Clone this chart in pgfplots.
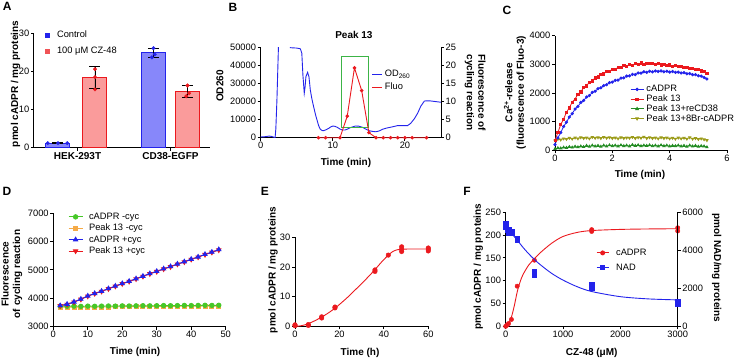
\documentclass[border=0pt]{standalone}
\usepackage{fontspec}
\setmainfont{Liberation Sans}
\usepackage{pgfplots}
\pgfplotsset{compat=1.18}

\definecolor{gblue}{RGB}{35,35,235}
\definecolor{gred}{RGB}{235,25,30}
\definecolor{barblue}{RGB}{135,135,250}
\definecolor{barred}{RGB}{250,155,155}
\definecolor{boxgreen}{RGB}{60,180,70}
\definecolor{cgreen}{RGB}{35,140,35}
\definecolor{colive}{RGB}{155,155,25}
\definecolor{dgreen}{RGB}{70,200,40}
\definecolor{dorange}{RGB}{245,170,70}

\pgfplotsset{
  gp/.style={
    scale only axis, anchor=south west,
    axis x line*=bottom, axis y line*=left,
    axis line style={line width=1pt, black},
    tick align=outside, major tick length=3pt,
    tick style={line width=0.9pt, black},
    /pgf/number format/assume math mode=true,
    /pgf/number format/1000 sep={},
    scaled ticks=false,
    tick label style={font=\fontsize{9.3}{10}\selectfont, inner sep=1.5pt},
    label style={font=\fontsize{10}{11.5}\selectfont\bfseries, align=center, anchor=center},
    legend style={draw=none, fill=none, font=\fontsize{9.3}{10}\selectfont,
      inner sep=0pt, anchor=north west,
      nodes={inner sep=0pt, text height=7pt, text depth=2pt}},
    legend cell align=left,
    clip=false,
  },
}
\tikzset{pan/.style={font=\fontsize{12}{14}\selectfont\bfseries}}

\begin{document}
\begin{tikzpicture}[x=1pt,y=1pt]
\useasboundingbox (0,0) rectangle (737,360);

% ---------------- A ----------------
\begin{axis}[gp, at={(34pt,212.3pt)}, width=176pt, height=114.4pt,
  xmin=0.532, xmax=2.425, ymin=0, ymax=30, ytick={0,10,20,30},
  xtick={1,2}, xticklabels={HEK-293T,CD38-EGFP},
  xticklabel style={font=\fontsize{10}{11}\selectfont\bfseries},
  ylabel={pmol cADPR / mg proteins},
  ylabel style={at={(axis description cs:-0.105,0.557)}},
  legend style={at={(axis description cs:0.064,1.024)}, row sep=6.7pt,
    /tikz/every odd column/.append style={column sep=8pt}},
  legend image code/.code={\draw[#1] plot coordinates {(1.8pt,0pt)};},
]
\addlegendimage{only marks, mark=square*, mark size=1.8pt, gblue}
\addlegendentry{Control}
\addlegendimage{only marks, mark=square*, mark size=1.8pt, gred!75}
\addlegendentry{100 μM CZ-48}
\addplot[ybar, bar width=24pt, bar shift=0pt, fill=barblue, draw=gblue, line width=1pt, forget plot,
  error bars/.cd, y dir=both, y explicit,
  error bar style={black, line width=0.9pt},
  error mark options={black, rotate=90, mark size=5.5pt, line width=0.9pt}]
  coordinates {(0.790,1.2) +- (0,0.05) (1.817,24.9) +- (0,1.25)};
\addplot[ybar, bar width=24pt, bar shift=0pt, fill=barred, draw=gred, line width=1pt, forget plot,
  error bars/.cd, y dir=both, y explicit,
  error bar style={black, line width=0.9pt},
  error mark options={black, rotate=90, mark size=5.5pt, line width=0.9pt}]
  coordinates {(1.188,18.4) +- (0,2.8) (2.183,14.7) +- (0,1.6)};
\addplot[only marks, mark=*, mark size=1.8pt, gblue, forget plot]
  coordinates {(0.68,1.2) (0.79,1.2) (0.89,1.2) (1.80,23.7) (1.83,24.5) (1.817,26.1)};
\addplot[only marks, mark=*, mark size=1.8pt, gred, forget plot]
  coordinates {(1.188,20.6) (1.188,18.5) (1.188,15.3) (2.183,16.3) (2.17,13.5) (2.20,14.3)};
\end{axis}

% ---------------- B ----------------
\begin{axis}[gp, clip=true, at={(260.7pt,222.3pt)}, width=180.3pt, height=90pt,
  xmin=0, xmax=25, ymin=0, ymax=50000, xtick={0,10,20}, ytick={0,10000,...,50000},
  xlabel={Time (min)}, ylabel={OD260},
  xlabel style={at={(axis description cs:0.473,-0.281)}},
  ylabel style={at={(axis description cs:-0.226,0.574)}},
]
\addplot[gblue, line width=0.9pt, forget plot] coordinates {
 (0,400) (0.5,500) (1.0,800) (1.2,900) (1.5,700) (1.8,300) (2.0,100) (2.1,5000)
 (2.25,21000) (2.45,49000) (2.6,70000) (3.5,80000) (4.0,60000) (4.1,50000)
 (5.0,49800) (5.5,49400) (5.7,47000) (5.85,35000) (6.04,24700) (6.15,28000)
 (6.27,33900) (6.5,36300) (6.69,33900) (6.88,26500) (7.1,21500) (7.34,17200)
 (7.6,12800) (7.81,9800) (8.05,6500) (8.27,4700) (8.5,4000) (8.73,3900)
 (9.1,4500) (9.43,5200) (9.75,6100) (10.04,6500) (10.3,6300) (10.6,5800)
 (11.0,4800) (11.3,4300) (11.7,4300) (12.0,4700) (12.5,5700) (13.15,6500)
 (13.6,6400) (14.1,5800) (14.6,4700) (15.0,3900) (15.5,3500) (15.94,3300)
 (16.4,3700) (16.9,4700) (17.5,5400) (18.0,5800) (18.97,6700) (20.0,6700)
 (20.36,6700) (20.8,8000) (21.3,10500) (21.75,13500) (22.2,17500) (22.7,20400)
 (23.4,20500) (24.2,20100) (25,19700)};
\end{axis}
\begin{axis}[gp, at={(260.7pt,222.3pt)}, width=180.3pt, height=90pt,
  xmin=0, xmax=25, ymin=0, ymax=25, axis x line=none, axis y line*=right,
  ytick={0,5,...,25},
  title={Peak 13}, title style={font=\fontsize{10}{11}\selectfont\bfseries,
    at={(axis description cs:0.517,1)}, anchor=south, yshift=0pt},
  ylabel={Fluorescence of\\cycling reaction},
  ylabel style={rotate=180, at={(axis description cs:1.189,0.502)}},
  legend style={at={(axis description cs:0.616,0.758)}, row sep=4pt,
    /tikz/every odd column/.append style={column sep=2pt}},
  legend image code/.code={\draw[#1] (0pt,0pt) -- (10pt,0pt);},
]
\addlegendimage{gblue, line width=0.9pt}
\addlegendentry{OD\textsubscript{260}}
\addlegendimage{gred, line width=0.9pt}
\addlegendentry{Fluo}
\addplot[boxgreen, line width=0.9pt, forget plot]
  coordinates {(11.2,2.9) (14.9,2.9) (14.9,22.5) (11.2,22.5) (11.2,2.9)};
\addplot[gred, line width=0.9pt, mark=*, mark size=1.3pt, forget plot] coordinates {
 (8,0) (9,0) (11,0) (12,6.0) (13,19.4) (14,13.1) (15,1.4) (16,0) (17,0) (18,0)
 (19,0) (20,0) (21,0) (23,0)};
\end{axis}

% ---------------- C ----------------
\begin{axis}[gp, at={(555pt,209.7pt)}, width=172pt, height=114.6pt,
  xmin=0, xmax=6, ymin=0, ymax=4000, xtick={0,2,4,6}, ytick={0,1000,...,4000},
  xlabel={Time (min)},
  ylabel={Ca\textsuperscript{2+}-release\\(fluorescence of Fluo-3)},
  xlabel style={at={(axis description cs:0.494,-0.213)}},
  ylabel style={at={(axis description cs:-0.233,0.504)}},
  legend style={at={(axis description cs:0.436,0.572)}, row sep=0.7pt,
    /tikz/every odd column/.append style={column sep=2.5pt}},
  legend image code/.code={\draw[mark repeat=2,mark phase=2,#1] plot coordinates {(0pt,0pt) (6.5pt,0pt) (13pt,0pt)};},
]
\addlegendimage{gblue, line width=0.8pt, mark=*, mark size=1.3pt}
\addlegendentry{cADPR}
\addlegendimage{gred, line width=0.8pt, mark=square*, mark size=1.2pt}
\addlegendentry{Peak 13}
\addlegendimage{cgreen, line width=0.8pt, mark=triangle*, mark size=1.5pt}
\addlegendentry{Peak 13+reCD38}
\addlegendimage{colive, line width=0.8pt, mark=triangle*, mark size=1.5pt, mark options={rotate=180}}
\addlegendentry{Peak 13+8Br-cADPR}
\addplot[colive, line width=0.8pt, mark=triangle*, mark size=1.3pt, mark options={rotate=180}, forget plot] coordinates {
 (0.0,340) (0.1,390) (0.2,370) (0.3,410) (0.4,390) (0.5,430) (0.6,400) (0.7,440)
 (0.8,410) (0.9,450) (1.0,420) (1.1,440) (1.2,410) (1.3,460) (1.4,430) (1.5,450)
 (1.6,420) (1.7,460) (1.8,430) (1.9,450) (2.0,420) (2.1,440) (2.2,410) (2.3,450)
 (2.4,420) (2.5,440) (2.6,430) (2.7,460) (2.8,420) (2.9,450) (3.0,430) (3.1,470)
 (3.2,420) (3.3,450) (3.4,420) (3.5,440) (3.6,410) (3.7,450) (3.8,420) (3.9,440)
 (4.0,410) (4.1,430) (4.2,400) (4.3,440) (4.4,410) (4.5,430) (4.6,400) (4.7,450)
 (4.8,400) (4.9,420) (5.0,390) (5.1,410) (5.2,380) (5.3,350)};
\addplot[cgreen, line width=0.8pt, mark=triangle*, mark size=1.3pt, forget plot] coordinates {
 (0.0,50) (0.1,80) (0.2,70) (0.3,100) (0.4,90) (0.5,120) (0.6,100) (0.7,130)
 (0.8,110) (0.9,140) (1.0,120) (1.1,160) (1.2,130) (1.3,170) (1.4,140) (1.5,160)
 (1.6,130) (1.7,170) (1.8,140) (1.9,180) (2.0,150) (2.1,170) (2.2,140) (2.3,180)
 (2.4,150) (2.5,170) (2.6,140) (2.7,190) (2.8,160) (2.9,180) (3.0,150) (3.1,170)
 (3.2,160) (3.3,180) (3.4,150) (3.5,170) (3.6,140) (3.7,180) (3.8,150) (3.9,170)
 (4.0,140) (4.1,160) (4.2,150) (4.3,170) (4.4,140) (4.5,160) (4.6,130) (4.7,170)
 (4.8,140) (4.9,160) (5.0,130) (5.1,150) (5.2,140) (5.3,110)};
\addplot[gblue, line width=0.8pt, mark=*, mark size=1.2pt, forget plot] coordinates {
 (0.0,200) (0.1,430) (0.2,620) (0.3,830) (0.4,980) (0.5,1160) (0.6,1280) (0.7,1440)
 (0.8,1530) (0.9,1670) (1.0,1740) (1.1,1860) (1.2,1910) (1.3,2020) (1.4,2060) (1.5,2150)
 (1.6,2180) (1.7,2260) (1.8,2290) (1.9,2360) (2.0,2380) (2.1,2440) (2.2,2450) (2.3,2520)
 (2.4,2530) (2.5,2590) (2.6,2600) (2.7,2650) (2.8,2640) (2.9,2700) (3.0,2690) (3.1,2740)
 (3.2,2720) (3.3,2760) (3.4,2740) (3.5,2770) (3.6,2750) (3.7,2770) (3.8,2740) (3.9,2760)
 (4.0,2730) (4.1,2750) (4.2,2720) (4.3,2730) (4.4,2700) (4.5,2710) (4.6,2670) (4.7,2680)
 (4.8,2640) (4.9,2640) (5.0,2600) (5.1,2590) (5.2,2540) (5.3,2490)};
\addplot[gred, line width=0.8pt, mark=square*, mark size=1.1pt, forget plot] coordinates {
 (0.0,350) (0.1,620) (0.2,900) (0.3,1090) (0.4,1330) (0.5,1480) (0.6,1680) (0.7,1790)
 (0.8,1960) (0.9,2040) (1.0,2190) (1.1,2250) (1.2,2380) (1.3,2420) (1.4,2530) (1.5,2560)
 (1.6,2650) (1.7,2670) (1.8,2750) (1.9,2760) (2.0,2830) (2.1,2830) (2.2,2890) (2.3,2880)
 (2.4,2950) (2.5,2930) (2.6,2990) (2.7,2960) (2.8,3020) (2.9,3000) (3.0,3050) (3.1,3010)
 (3.2,3040) (3.3,3020) (3.4,3030) (3.5,2990) (3.6,3020) (3.7,2980) (3.8,3000) (3.9,2960)
 (4.0,2980) (4.1,2940) (4.2,2960) (4.3,2920) (4.4,2930) (4.5,2890) (4.6,2900) (4.7,2860)
 (4.8,2870) (4.9,2820) (5.0,2830) (5.1,2770) (5.2,2760) (5.3,2690)};
\end{axis}

% ---------------- D ----------------
\begin{axis}[gp, at={(53.3pt,33.5pt)}, width=172.4pt, height=113.2pt,
  xmin=0, xmax=50, ymin=3000, ymax=7000, xtick={0,10,...,50}, ytick={3000,4000,...,7000},
  xlabel={Time (min)}, ylabel={Fluorescence\\of cycling reaction},
  xlabel style={at={(axis description cs:0.474,-0.225)}},
  ylabel style={at={(axis description cs:-0.24,0.464)}},
  legend style={at={(axis description cs:0.085,1.01)}, row sep=2.4pt,
    /tikz/every odd column/.append style={column sep=6pt}},
  legend image code/.code={\draw[mark repeat=2,mark phase=2,#1] plot coordinates {(0pt,0pt) (7pt,0pt) (14pt,0pt)};},
]
\addlegendimage{dgreen, line width=0.9pt, mark=*, mark size=2.2pt}
\addlegendentry{cADPR -cyc}
\addlegendimage{dorange, line width=0.9pt, mark=square*, mark size=2pt}
\addlegendentry{Peak 13 -cyc}
\addlegendimage{gblue, line width=0.9pt, mark=triangle*, mark size=2.4pt}
\addlegendentry{cADPR +cyc}
\addlegendimage{gred, line width=0.9pt, mark=triangle*, mark size=2.4pt, mark options={rotate=180}}
\addlegendentry{Peak 13 +cyc}
\addplot[dorange, line width=0.9pt, mark=square*, mark size=2pt, forget plot] coordinates {
 (2,3690) (4,3680) (6,3685) (8,3680) (10,3690) (12,3685) (14,3690) (16,3690)
 (18,3695) (20,3700) (22,3700) (24,3705) (26,3700) (28,3705) (30,3710) (32,3710)
 (34,3715) (36,3710) (38,3720) (40,3715) (42,3720) (44,3725) (46,3720) (48,3725)};
\addplot[dgreen, line width=0.9pt, mark=*, mark size=2.2pt, forget plot] coordinates {
 (2,3720) (4,3715) (6,3720) (8,3710) (10,3720) (12,3715) (14,3720) (16,3725)
 (18,3720) (20,3730) (22,3725) (24,3730) (26,3735) (28,3730) (30,3735) (32,3740)
 (34,3735) (36,3740) (38,3745) (40,3740) (42,3745) (44,3750) (46,3745) (48,3750)};
\addplot[gred, line width=0.9pt, mark=triangle*, mark size=2.4pt, mark options={rotate=180}, forget plot] coordinates {
 (2,3730) (4,3780) (6,3860) (8,3960) (10,4070) (12,4160) (14,4240) (16,4330)
 (18,4420) (20,4510) (22,4590) (24,4680) (26,4770) (28,4860) (30,4940) (32,5030)
 (34,5110) (36,5200) (38,5280) (40,5370) (42,5450) (44,5540) (46,5620) (48,5700)};
\addplot[gblue, line width=0.9pt, mark=triangle*, mark size=2.4pt, forget plot] coordinates {
 (2,3740) (4,3790) (6,3870) (8,3970) (10,4080) (12,4170) (14,4250) (16,4340)
 (18,4430) (20,4520) (22,4600) (24,4690) (26,4780) (28,4870) (30,4950) (32,5040)
 (34,5120) (36,5210) (38,5290) (40,5380) (42,5460) (44,5550) (46,5630) (48,5720)};
\end{axis}

% ---------------- E ----------------
\begin{axis}[gp, at={(295pt,33.7pt)}, width=133.3pt, height=89pt,
  xmin=0, xmax=60, ymin=0, ymax=30, xtick={0,20,40,60}, ytick={0,10,20,30},
  xlabel={Time (h)}, ylabel={pmol cADPR / mg proteins},
  xlabel style={at={(axis description cs:0.488,-0.30)}},
  ylabel style={at={(axis description cs:-0.165,0.633)}},
]
\addplot[gred, line width=0.9pt, smooth, forget plot] coordinates {
 (0,0) (2,0.1) (4,0.4) (6,0.9) (9,1.9) (12,3.1) (15,4.5) (18,6.1) (21,8.0)
 (24,10.0) (27,12.2) (30,14.4) (33,16.7) (36,19.1) (39,21.7) (42,24.0) (44,25.2)
 (46,25.8) (48,26.0) (52,26.05) (60,26.05)};
\addplot[only marks, mark=*, mark size=2.3pt, gred, forget plot] coordinates {
 (0,0.2) (0,0.5) (6,0.3) (6,0.6) (12,2.8) (12,3.2) (18,6.2) (18,6.5) (36,18.5) (36,19.0)
 (42,24.0) (48,25.2) (48,26.0) (48,26.8) (60,25.4) (60,26.0) (60,26.4)};
\end{axis}

% ---------------- F ----------------
\begin{axis}[gp, at={(505.7pt,33.7pt)}, width=172pt, height=114pt,
  xmin=0, xmax=3000, ymin=0, ymax=250, xtick={0,1000,2000,3000}, ytick={0,50,...,250},
  xlabel={CZ-48 (μM)}, ylabel={pmol cADPR / mg proteins},
  xlabel style={at={(axis description cs:0.5,-0.237)}},
  ylabel style={at={(axis description cs:-0.159,0.523)}},
]
\addplot[gred, line width=0.9pt, smooth, forget plot] coordinates {
 (0,0) (25,2) (50,6) (75,12) (100,20) (150,45) (200,75) (250,97) (300,113) (400,134)
 (500,148) (600,161) (800,182) (1000,197) (1250,206) (1500,210) (2000,212.5)
 (2500,213.5) (3000,214)};
\addplot[only marks, mark=*, mark size=2.2pt, gred, forget plot] coordinates {
 (0,0) (25,3) (50,6) (100,15) (200,88) (500,145) (1500,208) (1500,212) (3000,209) (3000,216)};
\end{axis}
\begin{axis}[gp, at={(505.7pt,33.7pt)}, width=172pt, height=114pt,
  xmin=0, xmax=3000, ymin=0, ymax=6000, axis x line=none, axis y line*=right,
  ytick={0,2000,4000,6000},
  ylabel={pmol NAD/mg proteins},
  ylabel style={rotate=180, at={(axis description cs:1.227,0.511)}},
  legend style={at={(axis description cs:0.525,0.685)}, row sep=6pt,
    /tikz/every odd column/.append style={column sep=7pt}},
  legend image code/.code={\draw[mark repeat=2,mark phase=2,#1] plot coordinates {(0pt,0pt) (6pt,0pt) (12pt,0pt)};},
]
\addlegendimage{gred, line width=0.9pt, mark=*, mark size=2pt}
\addlegendentry{cADPR}
\addlegendimage{gblue, line width=0.9pt, mark=square*, mark size=2pt}
\addlegendentry{NAD}
\addplot[gblue, line width=0.9pt, smooth, forget plot] coordinates {
 (0,5300) (50,5100) (100,4900) (200,4540) (300,4160) (400,3820) (500,3520) (600,3250)
 (800,2790) (1000,2430) (1250,2080) (1500,1830) (2000,1560) (2500,1440) (3000,1390)};
\addplot[only marks, mark=square*, mark size=2.3pt, gblue, forget plot] coordinates {
 (0,5420) (0,5230) (25,5100) (50,5120) (50,4900) (100,4980) (100,4900) (200,4540)
 (200,4640) (500,2870) (500,2730) (1500,2200) (1500,2000) (3000,1300) (3000,1200)};
\end{axis}

\node[pan] at (7.3,354) {A};
\node[pan] at (233,353) {B};
\node[pan] at (507,350) {C};
\node[pan] at (7,168.3) {D};
\node[pan] at (265,169) {E};
\node[pan] at (467,169) {F};
\end{tikzpicture}
\end{document}
